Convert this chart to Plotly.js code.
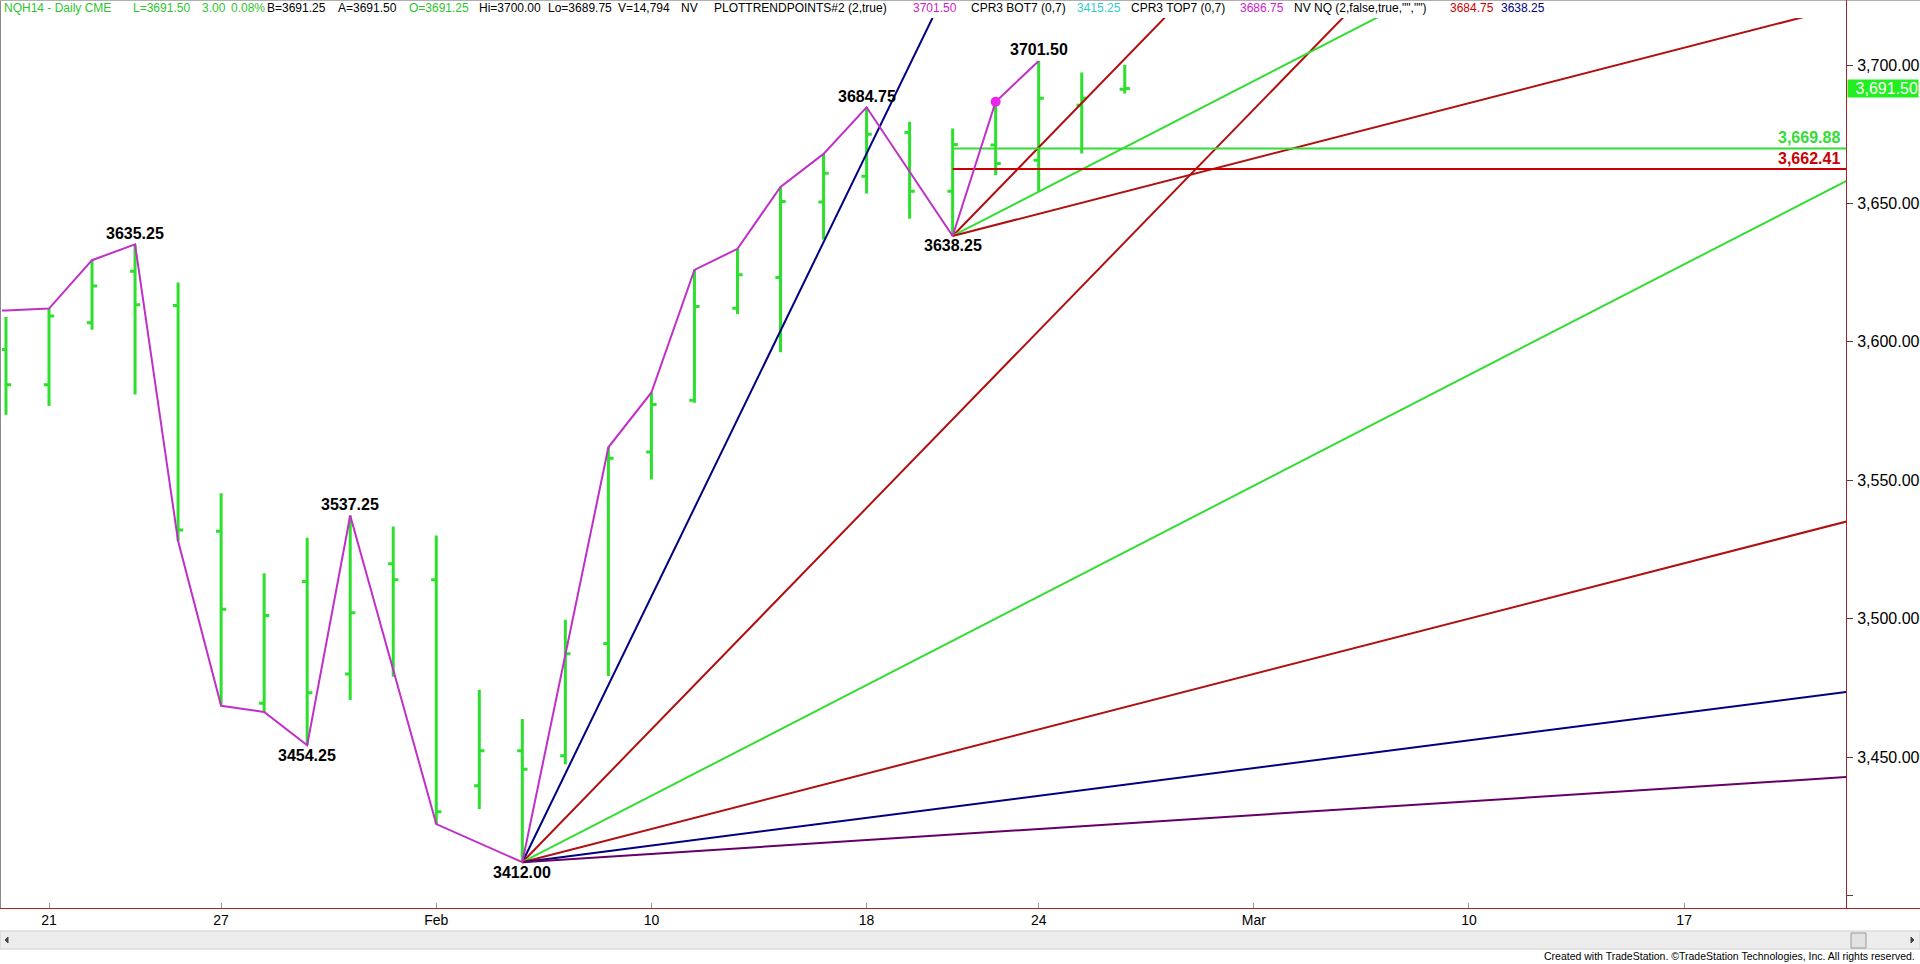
<!DOCTYPE html>
<html>
<head>
<meta charset="utf-8">
<script src="https://cdn.plot.ly/plotly-3.0.1.min.js"></script>
<style>
html,body{margin:0;padding:0;background:#fff;}
#chart{width:1920px;height:964px;}
</style>
</head>
<body>
<div id="chart"></div>
<script>
// ---- trading sessions (categories) ----
const sessionDates = [
  '2014-01-16','2014-01-17','2014-01-21','2014-01-22','2014-01-23','2014-01-24',
  '2014-01-27','2014-01-28','2014-01-29','2014-01-30','2014-01-31',
  '2014-02-03','2014-02-04','2014-02-05','2014-02-06','2014-02-07',
  '2014-02-10','2014-02-11','2014-02-12','2014-02-13','2014-02-14',
  '2014-02-18','2014-02-19','2014-02-20','2014-02-21',
  '2014-02-24','2014-02-25','2014-02-26','2014-02-27','2014-02-28',
  '2014-03-03','2014-03-04','2014-03-05','2014-03-06','2014-03-07',
  '2014-03-10','2014-03-11','2014-03-12','2014-03-13','2014-03-14',
  '2014-03-17','2014-03-18','2014-03-19','2014-03-20','2014-03-21'
];

// ---- x tick labels ----
const tickDates  = ['2014-01-21','2014-01-27','2014-02-03','2014-02-10','2014-02-18','2014-02-24','2014-03-03','2014-03-10','2014-03-17'];
const tickLabels = ['21','27','Feb','10','18','24','Mar','10','17'];

// ---- daily OHLC bars ----
const barDates = sessionDates.slice(1, 28);
const barOpen  = [3597.2,3584.5,3606.9,3625.5,3613.1,3531.6,3469.4,3513.4,3480.0,3519.8,
                  3514.0,3439.6,3452.3,3450.5,3491.0,3560.2,3578.9,3612.1,3623.2,3650.5,
                  3659.8,3675.6,3654.4,3671.1,3665.6,3685.5,3691.25];
const barHigh  = [3609.0,3612.0,3629.5,3635.25,3621.4,3545.3,3516.4,3529.2,3537.25,3533.3,
                  3530.0,3474.3,3463.7,3499.6,3561.9,3581.7,3626.0,3633.6,3656.0,3667.9,
                  3684.75,3679.5,3677.1,3686.75,3701.5,3697.3,3700.0];
const barLow   = [3573.7,3576.8,3604.4,3581.0,3528.0,3469.0,3466.3,3454.25,3470.6,3479.0,
                  3425.75,3431.2,3412.0,3447.4,3479.3,3550.3,3578.0,3610.1,3596.2,3637.0,
                  3653.6,3644.5,3638.25,3660.2,3654.2,3668.0,3689.75];
const barClose = [3584.5,3609.3,3620.2,3613.4,3532.0,3503.4,3501.1,3473.2,3502.1,3514.0,
                  3430.2,3452.3,3445.6,3487.3,3557.9,3577.4,3612.8,3624.2,3650.7,3660.9,
                  3675.0,3654.4,3671.3,3664.4,3688.0,3688.0,3691.5];

// ---- swing (trend points) line ----
const zigDates  = ['2014-01-16','2014-01-17','2014-01-21','2014-01-22','2014-01-23','2014-01-24','2014-01-27',
                   '2014-01-28','2014-01-29','2014-01-30','2014-02-03','2014-02-05','2014-02-07',
                   '2014-02-10','2014-02-11','2014-02-12','2014-02-13','2014-02-14','2014-02-18',
                   '2014-02-20','2014-02-21','2014-02-24'];
const zigValues = [3611.2,3611.3,3612.0,3629.5,3635.25,3528.0,3468.5,
                   3466.3,3454.25,3537.25,3425.75,3412.0,3561.9,
                   3581.7,3626.0,3633.6,3656.0,3667.9,3684.75,
                   3638.25,3686.75,3701.5];

// ---- labelled pivots ----
const pivotDates  = ['2014-01-23','2014-01-29','2014-01-30','2014-02-05','2014-02-18','2014-02-20','2014-02-24'];
const pivotValues = [3635.25,3454.25,3537.25,3412.00,3684.75,3638.25,3701.50];
const pivotIsHigh = [true,false,true,false,true,false,true];

// ---- marked point (CPR3 TOP7) ----
const dotDate = ['2014-02-21'];
const dotValue = [3686.75];

// ---- fan lines: start point and value at end session ----
const fanStartDate = ['2014-02-05','2014-02-05','2014-02-05','2014-02-05','2014-02-05','2014-02-05',
                      '2014-02-20','2014-02-20','2014-02-20'];
const fanStartVal  = [3412,3412,3412,3412,3412,3412,3638.25,3638.25,3638.25];
const fanEndDate   = '2014-03-21';
const fanEndVal    = [4404,3908,3660,3536,3474,3443,3974.25,3806.25,3722.25];
const fanColors    = ['#000080','#b01010','#33dd33','#b01010','#000080','#660066','#b01010','#33dd33','#b01010'];

// ---- horizontal levels ----
const levelStart  = '2014-02-20';
const levelValues = [3669.88, 3662.41];
const levelLabels = ['3,669.88', '3,662.41'];
const levelColors = ['#33dd33', '#cc0000'];

// ---- y axis ----
const yTickVals   = [3400,3450,3500,3550,3600,3650,3700];
const yTickLabels = ['','3,450.00','3,500.00','3,550.00','3,600.00','3,650.00','3,700.00'];
const lastPrice = 3691.50;
const lastPriceLabel = '3,691.50';

// ---- header ----
const headerItems = [
  ['NQH14 - Daily CME','#2ec42e'],['L=3691.50','#2ec42e'],['3.00','#2ec42e'],['0.08%','#2ec42e'],
  ['B=3691.25','#000'],['A=3691.50','#000'],['O=3691.25','#2ec42e'],['Hi=3700.00','#000'],
  ['Lo=3689.75','#000'],['V=14,794','#000'],['NV','#000'],['PLOTTRENDPOINTS#2 (2,true)','#000'],
  ['3701.50','#cc22cc'],['CPR3 BOT7 (0,7)','#000'],['3415.25','#33cccc'],['CPR3 TOP7 (0,7)','#000'],
  ['3686.75','#cc22cc'],['NV NQ (2,false,true,"","")','#000'],['3684.75','#cc0000'],['3638.25','#000080']
];
const headerX = [3,132,201,230,266,337,408,478,547,617,680,713,912,970,1076,1130,1239,1293,1449,1500];

// ================= drawing =================
const ix = d => sessionDates.indexOf(d);
const FONT = 'Liberation Sans, Arial, sans-serif';
const W = 1920, H = 964, ML = 2, MR = 74, MT = 18, MB = 56;
const PW = W - ML - MR, PH = H - MT - MB;
const px2paperX = p => (p - ML) / PW;
const px2paperY = p => (H - MB - p) / PH;

const traces = [];
fanStartDate.forEach((d, i) => {
  traces.push({type:'scatter', mode:'lines', x:[ix(d), ix(fanEndDate)], y:[fanStartVal[i], fanEndVal[i]],
    line:{color:fanColors[i], width:2}, hoverinfo:'skip'});
});
levelValues.forEach((v, i) => {
  traces.push({type:'scatter', mode:'lines', x:[ix(levelStart), ix(fanEndDate)], y:[v, v],
    line:{color:levelColors[i], width:2}, hoverinfo:'skip'});
});
traces.push({type:'ohlc', x:barDates.map(ix), open:barOpen, high:barHigh, low:barLow, close:barClose,
  increasing:{line:{color:'#2ee02e', width:3}}, decreasing:{line:{color:'#2ee02e', width:3}},
  tickwidth:0.12, hoverinfo:'skip'});
traces.push({type:'scatter', mode:'lines', x:zigDates.map(ix), y:zigValues,
  line:{color:'#c030c8', width:2}, hoverinfo:'skip'});
traces.push({type:'scatter', mode:'markers', x:dotDate.map(ix), y:dotValue,
  marker:{color:'#ee22ee', size:10}, hoverinfo:'skip'});

const annotations = [];
pivotDates.forEach((d, i) => {
  annotations.push({x:ix(d), y:pivotValues[i], xref:'x', yref:'y', text:'<b>'+pivotValues[i].toFixed(2)+'</b>',
    showarrow:false, xanchor:'center', yanchor:'middle', yshift: pivotIsHigh[i] ? 11 : -10,
    font:{family:FONT, size:16, color:'#000'}});
});
headerItems.forEach((h, i) => {
  annotations.push({x:px2paperX(headerX[i]), y:px2paperY(8), xref:'paper', yref:'paper', text:h[0],
    showarrow:false, xanchor:'left', yanchor:'middle', borderpad:0,
    font:{family:FONT, size:12, color:h[1]}});
});
levelValues.forEach((v, i) => {
  annotations.push({x:px2paperX(1842), y:v, xref:'paper', yref:'y', text:'<b>'+levelLabels[i]+'</b>',
    showarrow:false, xanchor:'right', yanchor:'middle', yshift:11,
    font:{family:FONT, size:16, color:levelColors[i]}});
});
annotations.push({x:px2paperX(1847), y:lastPrice, xref:'paper', yref:'y', text:lastPriceLabel,
  showarrow:false, xanchor:'left', yanchor:'middle', bgcolor:'#22ee22', width:70, height:17,
  borderpad:0, align:'right', font:{family:FONT, size:16, color:'#ffffff'}});
annotations.push({x:px2paperX(1917), y:px2paperY(956), xref:'paper', yref:'paper',
  text:'Created with TradeStation. \u00A9TradeStation Technologies, Inc. All rights reserved.',
  showarrow:false, xanchor:'right', yanchor:'middle', font:{family:FONT, size:10.5, color:'#000'}});

const shapes = [
  // scrollbar
  {type:'rect', xref:'paper', yref:'paper', x0:px2paperX(0), x1:px2paperX(1920), y0:px2paperY(949), y1:px2paperY(931),
   fillcolor:'#ededed', line:{color:'#d0d0d0', width:1}, layer:'below'},
  {type:'rect', xref:'paper', yref:'paper', x0:px2paperX(1851), x1:px2paperX(1866), y0:px2paperY(948), y1:px2paperY(933),
   fillcolor:'#e2e2e2', line:{color:'#9a9a9a', width:1}},
  {type:'path', xref:'paper', yref:'paper', path:'M '+px2paperX(8)+' '+px2paperY(937)+' L '+px2paperX(5)+' '+px2paperY(940)+' L '+px2paperX(8)+' '+px2paperY(943)+' Z',
   fillcolor:'#444', line:{color:'#444', width:1}},
  {type:'path', xref:'paper', yref:'paper', path:'M '+px2paperX(1911)+' '+px2paperY(937)+' L '+px2paperX(1914)+' '+px2paperY(940)+' L '+px2paperX(1911)+' '+px2paperY(943)+' Z',
   fillcolor:'#444', line:{color:'#444', width:1}},
  // frame lines
  {type:'line', xref:'paper', yref:'paper', x0:px2paperX(0.5), x1:px2paperX(0.5), y0:px2paperY(0), y1:px2paperY(908),
   line:{color:'#8a8a8a', width:1}},
  {type:'line', xref:'paper', yref:'paper', x0:px2paperX(0), x1:px2paperX(1920), y0:px2paperY(0.5), y1:px2paperY(0.5),
   line:{color:'#b0b0b0', width:1}},
  {type:'line', xref:'paper', yref:'paper', x0:px2paperX(0), x1:px2paperX(1920), y0:px2paperY(908.5), y1:px2paperY(908.5),
   line:{color:'#b22222', width:1}},
  {type:'line', xref:'paper', yref:'paper', x0:px2paperX(1846.5), x1:px2paperX(1846.5), y0:px2paperY(0), y1:px2paperY(908),
   line:{color:'#b22222', width:1}}
];

const xLeft = ix('2014-01-21') + (ML - 49) / 43.03;
const xRight = ix('2014-01-21') + (W - MR - 49) / 43.03;

const layout = {
  width:W, height:H,
  margin:{l:ML, r:MR, t:MT, b:MB, pad:0},
  paper_bgcolor:'#ffffff', plot_bgcolor:'#ffffff',
  showlegend:false, hovermode:false,
  xaxis:{range:[xLeft, xRight], tickmode:'array', tickvals:tickDates.map(ix), ticktext:tickLabels,
    ticks:'inside', ticklen:5, tickcolor:'#999', showgrid:false, zeroline:false, showline:false,
    tickfont:{family:FONT, size:14, color:'#000'}, ticklabelstandoff:2, fixedrange:true,
    rangeslider:{visible:false}},
  yaxis:{side:'right', range:[3395.45, 3717.0], tickmode:'array', tickvals:yTickVals, ticktext:yTickLabels,
    ticks:'outside', ticklen:6, tickcolor:'#444', showgrid:false, zeroline:false, showline:false,
    tickfont:{family:FONT, size:16, color:'#000'}, ticklabelstandoff:1, fixedrange:true},
  annotations:annotations,
  shapes:shapes
};

Plotly.newPlot('chart', traces, layout, {displayModeBar:false, staticPlot:true});
</script>
</body>
</html>
